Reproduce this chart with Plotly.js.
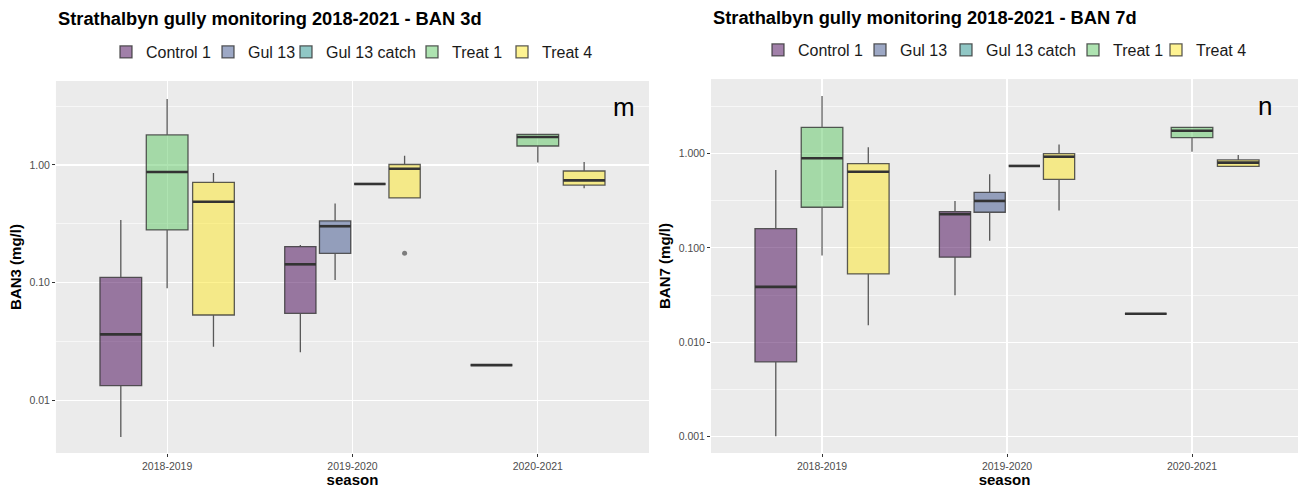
<!DOCTYPE html>
<html>
<head>
<meta charset="utf-8">
<script src="https://cdn.plot.ly/plotly-3.0.1.min.js"></script>
<style>
  body { margin: 0; background: #fff; }
  #chart { width: 1298px; height: 488px; }
</style>
</head>
<body>
<div id="chart"></div>
<script>
const seasons = ['2018-2019', '2019-2020', '2020-2021'];
const groups = ['Control 1', 'Gul 13', 'Gul 13 catch', 'Treat 1', 'Treat 4'];

// box stats per season: [lower whisker, q1, median, q3, upper whisker], null = no samples
const ban3Control1 = [[0.0049, 0.0134, 0.0365, 0.111, 0.341], [0.0257, 0.0551, 0.1435, 0.203, 0.209], [0.02, 0.02, 0.02, 0.02, 0.02]];
const ban3Gul13 = [null, [0.1056, 0.178, 0.302, 0.335, 0.47], null];
const ban3Gul13Catch = [null, [0.69, 0.69, 0.69, 0.69, 0.69], null];
const ban3Treat1 = [[0.0898, 0.281, 0.873, 1.80, 3.63], null, [1.05, 1.45, 1.73, 1.82, 1.82]];
const ban3Treat4 = [[0.0287, 0.0533, 0.488, 0.713, 0.855], [0.525, 0.525, 0.93, 1.01, 1.2], [0.634, 0.676, 0.741, 0.889, 1.06]];

const ban7Control1 = [[0.001, 0.00618, 0.0386, 0.160, 0.672], [0.0315, 0.0797, 0.228, 0.243, 0.315], [0.02, 0.02, 0.02, 0.02, 0.02]];
const ban7Gul13 = [null, [0.119, 0.239, 0.315, 0.389, 0.605], null];
const ban7Gul13Catch = [null, [0.741, 0.741, 0.741, 0.741, 0.741], null];
const ban7Treat1 = [[0.0828, 0.270, 0.893, 1.905, 4.09], null, [1.05, 1.48, 1.75, 1.905, 1.905]];
const ban7Treat4 = [[0.0151, 0.053, 0.644, 0.783, 1.17], [0.249, 0.535, 0.929, 1.0, 1.25], [0.735, 0.735, 0.803, 0.858, 0.969]];

// outlying points
const ban3OutlierGroup = ['Treat 4'];
const ban3OutlierSeason = ['2019-2020'];
const ban3OutlierValue = [0.178];

const ban3Title = 'Strathalbyn gully monitoring 2018-2021 - BAN 3d';
const ban7Title = 'Strathalbyn gully monitoring 2018-2021 - BAN 7d';

// viridis, drawn at alpha 0.5
const fills = ['rgba(68,1,84,0.5)', 'rgba(59,82,139,0.5)', 'rgba(33,144,140,0.5)', 'rgba(93,200,99,0.5)', 'rgba(253,231,37,0.5)'];
const font = 'Liberation Sans, Arial, sans-serif';

// one small legend per key so the keys sit like ggplot's (left edge of the label, px)
const keyTextLeft = [[146, 248, 326, 452, 542], [798, 900, 986, 1113, 1196]];
const keyRowY = [52, 50];

let traces = [];

function legendId(panel, gi) {
  let n = panel * groups.length + gi + 1;
  return n === 1 ? 'legend' : 'legend' + n;
}

function addPanel(stats, outGroup, outSeason, outValue, xa, ya, panel) {
  // ggplot style dodge: slots shared only by groups present in that season
  let pos = {};
  seasons.forEach(function (s, si) {
    let present = groups.filter(function (g, gi) { return stats[gi][si] != null; });
    let n = present.length;
    let slot = 0.75 / n;
    present.forEach(function (g, k) {
      pos[g + '|' + s] = { x: si + (k - (n - 1) / 2) * slot, w: slot * 0.9 };
    });
  });

  groups.forEach(function (g, gi) {
    let first = true;
    seasons.forEach(function (s, si) {
      let st = stats[gi][si];
      if (st == null) return;
      let p = pos[g + '|' + s];
      traces.push({
        type: 'box', name: g, legendgroup: g + panel, legend: legendId(panel, gi),
        showlegend: first, xaxis: xa, yaxis: ya,
        x: [p.x], lowerfence: [st[0]], q1: [st[1]], median: [st[2]], q3: [st[3]], upperfence: [st[4]],
        width: p.w, whiskerwidth: 0, boxpoints: false,
        fillcolor: fills[gi], line: { color: 'rgba(51,51,51,0.8)', width: 1.3 }
      });
      // thicker median bar like ggplot
      traces.push({
        type: 'scatter', mode: 'lines', showlegend: false, hoverinfo: 'skip',
        xaxis: xa, yaxis: ya,
        x: [p.x - p.w / 2, p.x + p.w / 2], y: [st[2], st[2]],
        line: { color: '#333', width: 2.6 }
      });
      first = false;
    });
  });

  let ox = outGroup.map(function (g, i) { return pos[g + '|' + outSeason[i]].x; });
  traces.push({
    type: 'scatter', mode: 'markers', showlegend: false, xaxis: xa, yaxis: ya,
    x: ox, y: outValue, marker: { color: 'rgba(51,51,51,0.6)', size: 5 }
  });
}

addPanel([ban3Control1, ban3Gul13, ban3Gul13Catch, ban3Treat1, ban3Treat4],
  ban3OutlierGroup, ban3OutlierSeason, ban3OutlierValue, 'x', 'y', 0);
addPanel([ban7Control1, ban7Gul13, ban7Gul13Catch, ban7Treat1, ban7Treat4],
  [], [], [], 'x2', 'y2', 1);

function xAxis(domain, range, anchor) {
  return {
    domain: domain, range: range, anchor: anchor, type: 'linear',
    tickvals: [0, 1, 2], ticktext: seasons,
    ticks: 'outside', ticklen: 3, tickcolor: '#333', tickwidth: 1,
    tickfont: { family: font, size: 10.5, color: '#4D4D4D' },
    showgrid: true, gridcolor: '#fff', gridwidth: 1.2, zeroline: false,
    title: { text: 'season', standoff: 4, font: { family: font, size: 15, color: '#000', weight: 'bold' } }
  };
}

function yAxis(domain, range, anchor, vals, text, label) {
  return {
    domain: domain, range: range, anchor: anchor, type: 'log',
    tickmode: 'array', tickvals: vals, ticktext: text,
    ticks: 'outside', ticklen: 3, tickcolor: '#333', tickwidth: 1,
    tickfont: { family: font, size: 10.5, color: '#4D4D4D' },
    showgrid: true, gridcolor: '#fff', gridwidth: 1.2, zeroline: false,
    minor: { tickmode: 'array', tickvals: [0.00316, 0.0316, 0.316, 3.16], showgrid: true, gridcolor: '#fff', gridwidth: 0.6, ticks: '' },
    title: { text: label, standoff: 4, font: { family: font, size: 15, color: '#000', weight: 'bold' } }
  };
}

const layout = {
  width: 1298, height: 488,
  margin: { l: 0, r: 0, t: 0, b: 0 },
  paper_bgcolor: '#fff', plot_bgcolor: '#EBEBEB',
  font: { family: font },
  showlegend: true,
  xaxis: xAxis([0.0431, 0.5], [-0.6, 2.6], 'y'),
  yaxis: yAxis([0.0717, 0.834], [-2.445, 0.713], 'x', [0.01, 0.1, 1], ['0.01', '0.10', '1.00'], 'BAN3 (mg/l)'),
  xaxis2: xAxis([0.5478, 1], [-0.6, 2.573], 'y2'),
  yaxis2: yAxis([0.0717, 0.838], [-3.177, 0.792], 'x2', [0.001, 0.01, 0.1, 1], ['0.001', '0.010', '0.100', '1.000'], 'BAN7 (mg/l)'),
  annotations: [
    { text: ban3Title, xref: 'x domain', yref: 'paper', x: 0, y: 1 - 19 / 488, xanchor: 'left', yanchor: 'middle',
      showarrow: false, font: { family: font, size: 18.3, color: '#000', weight: 'bold' } },
    { text: ban7Title, xref: 'x2 domain', yref: 'paper', x: 0, y: 1 - 17 / 488, xanchor: 'left', yanchor: 'middle',
      showarrow: false, font: { family: font, size: 18.3, color: '#000', weight: 'bold' } },
    { text: 'm', xref: 'x domain', yref: 'y domain', x: 0.958, y: 0.93, xanchor: 'center', yanchor: 'middle',
      showarrow: false, font: { family: font, size: 26, color: '#000' } },
    { text: 'n', xref: 'x2 domain', yref: 'y2 domain', x: 0.944, y: 0.928, xanchor: 'center', yanchor: 'middle',
      showarrow: false, font: { family: font, size: 26, color: '#000' } }
  ]
};

[0, 1].forEach(function (panel) {
  groups.forEach(function (g, gi) {
    layout[legendId(panel, gi)] = {
      orientation: 'h', xanchor: 'left', yanchor: 'middle',
      x: (keyTextLeft[panel][gi] - 40) / 1298, y: 1 - keyRowY[panel] / 488,
      font: { family: font, size: 16, color: '#1a1a1a' }, bgcolor: 'rgba(0,0,0,0)', itemwidth: 30
    };
  });
});

Plotly.newPlot('chart', traces, layout, { displayModeBar: false, staticPlot: true });
</script>
</body>
</html>
